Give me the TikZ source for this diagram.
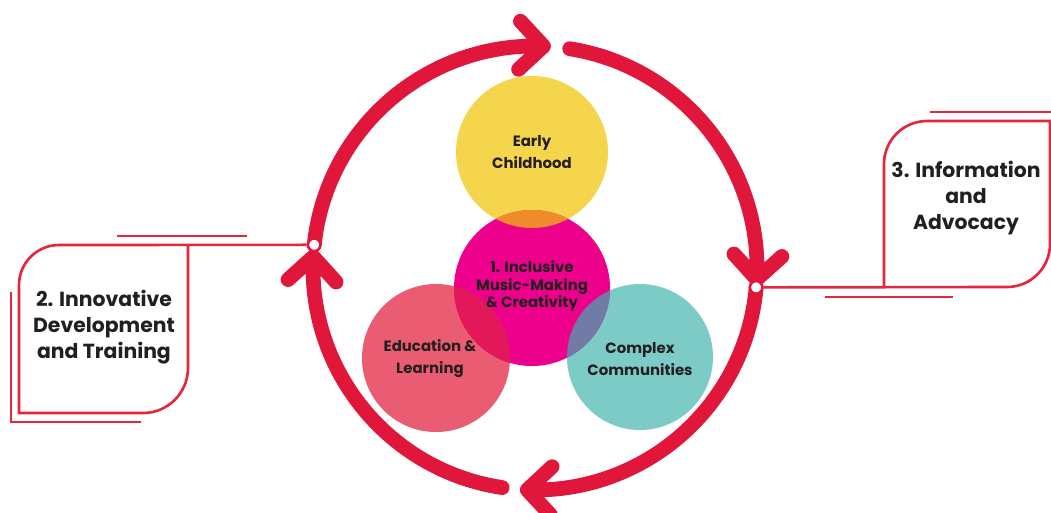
\documentclass[tikz,border=0pt]{standalone}
\usepackage{fontspec}
\setmainfont{Poppins}
\usetikzlibrary{calc}
\definecolor{ringred}{HTML}{E0173A}
\definecolor{boxred}{HTML}{E4263E}
\definecolor{yel}{HTML}{F5D54C}
\definecolor{mag}{HTML}{EC008C}
\definecolor{pnk}{HTML}{EA5C72}
\definecolor{teal}{HTML}{7DCBC7}
\definecolor{orng}{HTML}{F08B2B}
\definecolor{pnkmag}{HTML}{E2185B}
\definecolor{tealmag}{HTML}{707CA6}
\definecolor{ink}{HTML}{231F20}
\tikzset{ring/.style={draw=ringred,line width=8.4pt,line cap=round,line join=round}}
\tikzset{frame/.style={draw=boxred,line width=1.5pt}}
\tikzset{jn/.style={circle,draw=ringred,fill=white,line width=1.4pt,minimum size=0.25cm,inner sep=0pt}}
\tikzset{ctxt/.style={align=center,text=ink,font=\bfseries\fontsize{8.5}{12.5}\selectfont}}
\tikzset{btxt/.style={align=center,text=ink,font=\bfseries\fontsize{11.6}{15}\selectfont}}

\begin{document}
\begin{tikzpicture}[x=0.02cm,y=-0.02cm]
  \useasboundingbox (0,0) rectangle (1051,512);
  \coordinate (O) at (535,268);
  \coordinate (cEC) at (532,152);
  \coordinate (cIM) at (532,288);
  \coordinate (cEL) at (436,358);
  \coordinate (cCC) at (640,357);

  % circles
  \fill[yel] (cEC) circle[radius=76];
  \fill[pnk] (cEL) circle[radius=74];
  \fill[teal] (cCC) circle[radius=73];
  \fill[mag] (cIM) circle[radius=78];
  \begin{scope}
    \clip (cIM) circle[radius=78];
    \fill[orng] (cEC) circle[radius=76];
    \fill[pnkmag] (cEL) circle[radius=74];
    \fill[tealmag] (cCC) circle[radius=73];
  \end{scope}

  % ring with arrows
  \foreach \s/\e in {-174/-87.8, -81/2.9, 5/92, 98.5/182.9}
    \draw[ring] ($(O)+(\s:222)$) arc[start angle=\s,end angle=\e,radius=222]
      ++(\e-135:34) -- ($(O)+(\e:222)$) -- ++(\e-45:34);

  \node[jn] (J2) at ($(O)+(-174:222)$) {};
  \node[jn] (J3) at ($(O)+(5:222)$) {};

  % side boxes
  \draw[frame] (J2) -- (59,245) arc[start angle=-90,end angle=-180,radius=40]
    -- (19,413) -- (143,413) arc[start angle=90,end angle=0,radius=45] -- (188,245);
  \draw[frame] (117,236) -- (247,236);
  \draw[frame] (11,292) -- (11,422) -- (141,422);

  \draw[frame] (J3) -- (1007,287) arc[start angle=90,end angle=0,radius=43]
    -- (1050,121) -- (927,121) arc[start angle=-90,end angle=-180,radius=43] -- (884,287);
  \draw[frame] (930,112) -- (1051,112);
  \draw[frame] (825,297) -- (953,297);

  \node[btxt] (T2) at (104,327) {2. Innovative\\Development\\and Training};
  \node[btxt] (T3) at (966,198) {3. Information\\and\\Advocacy};

  \node[ctxt] (EC) at (cEC) {Early\\Childhood};
  \node[ctxt,font=\bfseries\fontsize{8.5}{10}\selectfont] (IM) at (532,286) {1. Inclusive\\Music-Making\\\& Creativity};
  \node[ctxt] (EL) at (430,359) {Education \&\\Learning};
  \node[ctxt] (CC) at (640,359) {Complex\\Communities};
\end{tikzpicture}
\end{document}
